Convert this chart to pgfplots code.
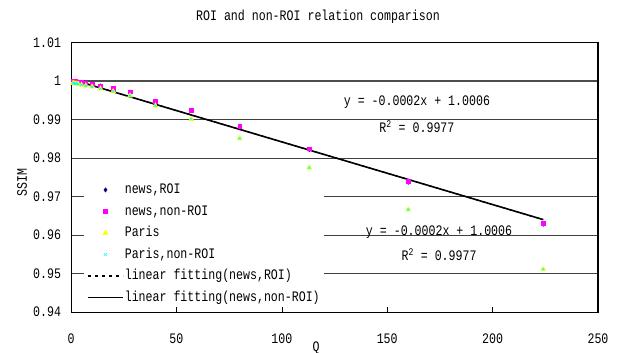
\documentclass[border=0pt]{standalone}
\usepackage{fontspec}
\setmainfont{Liberation Mono}[FakeStretch=0.80]
\usepackage{pgfplots}
\pgfplotsset{compat=1.18}
\definecolor{navyc}{RGB}{0,0,128}
\definecolor{magc}{RGB}{255,0,255}
\definecolor{yelc}{RGB}{255,255,0}
\definecolor{cyac}{RGB}{0,255,255}
\pgfplotsset{
  marklegend/.style={legend image code/.code={\draw[mark repeat=2,mark phase=2,##1] plot coordinates {(0bp,0bp)(17.5bp,0bp)(35bp,0bp)};}},
  linelegend/.style={legend image code/.code={\draw[##1] (0bp,0bp) -- (35bp,0bp);}},
}
\begin{document}
\fontsize{14.5bp}{17bp}\selectfont
\begin{tikzpicture}
\path[use as bounding box] (0,0) rectangle (636bp,353bp);
\begin{axis}[
  at={(71bp,41bp)}, anchor=south west,
  scale only axis, width=527bp, height=269.5bp,
  xmin=0, xmax=250, ymin=0.94, ymax=1.01,
  xtick={0,50,100,150,200,250}, xticklabels={0,50,100,150,200,250},
  ytick={0.94,0.95,0.96,0.97,0.98,0.99,1,1.01},
  yticklabels={0.94,0.95,0.96,0.97,0.98,0.99,1,1.01},
  /pgf/number format/assume math mode=true,
  ymajorgrids, grid style={black!75, line width=0.6pt},
  tick align=inside, xtick pos=bottom, ytick pos=left,
  major tick length=5bp,
  ytick style={draw=none},
  xtick style={black, line width=0.6pt},
  xticklabel style={yshift=-17bp},
  yticklabel style={xshift=-5bp},
  axis line style={black, line width=0.8pt},
  title={ROI and non-ROI relation comparison},
  title style={at={(0.4687,1.0723)}, anchor=center},
  xlabel={Q}, xlabel style={at={(0.465,-0.1336)}, anchor=center},
  ylabel={SSIM}, ylabel style={at={(-0.093,0.482)}, anchor=center},
  legend cell align=left,
  legend style={at={(0.0247,0.4898)}, anchor=north west, draw=none, fill=white,
    inner xsep=3bp, inner ysep=2bp, row sep=6bp,
    nodes={inner sep=1bp, text height=10.5bp, text depth=3bp},
    /tikz/every even column/.append style={column sep=0pt}},
]
\draw[gray!60!black, line width=1.3pt] (axis cs:0,1) -- (axis cs:250,1);
\addplot[only marks, mark=diamond*, mark size=2.2pt, color=navyc, marklegend]
  coordinates {(1,0.9999)(1.4,0.9998)(2,0.9998)(2.8,0.9997)(3.5,0.9997)(5,0.9996)(7,0.9994)(10,0.9991)(14,0.9987)(20,0.9981)(28,0.9971)(40,0.9947)(57,0.9924)(80,0.9881)(113,0.9822)(160,0.9737)(224,0.9628)};
\addlegendentry{news,ROI}
\addplot[only marks, mark=square*, mark size=1.9pt, color=magc, marklegend]
  coordinates {(1,1.0)(1.4,0.9999)(2,0.9999)(2.8,0.9998)(3.5,0.9998)(5,0.9997)(7,0.9995)(10,0.9992)(14,0.9988)(20,0.9982)(28,0.9972)(40,0.9948)(57,0.9925)(80,0.9882)(113,0.9824)(160,0.9739)(224,0.9630)};
\addlegendentry{news,non-ROI}
\addplot[only marks, mark=triangle*, mark size=2.9pt, color=yelc, marklegend]
  coordinates {(1,0.9995)(1.4,0.9994)(2,0.9993)(2.8,0.9993)(3.5,0.9992)(5,0.9990)(7,0.9988)(10,0.9985)(14,0.9980)(20,0.9973)(28,0.9962)(40,0.9936)(57,0.9901)(80,0.9851)(113,0.9775)(160,0.9666)(224,0.9511)};
\addlegendentry{Paris}
\addplot[only marks, mark=x, mark size=1.8pt, color=cyac, line width=0.6pt, marklegend]
  coordinates {(1,0.9995)(1.4,0.9994)(2,0.9993)(2.8,0.9993)(3.5,0.9992)(5,0.9990)(7,0.9988)(10,0.9985)(14,0.9980)(20,0.9973)(28,0.9962)(40,0.9936)(57,0.9901)(80,0.9851)(113,0.9775)(160,0.9666)(224,0.9511)};
\addlegendentry{Paris,non-ROI}
\addplot[black, line width=1.2pt, dash pattern=on 3bp off 4bp, linelegend]
  coordinates {(1,1.0003)(224,0.9640)};
\addlegendentry{linear fitting(news,ROI)}
\addplot[black, line width=1.6pt, linelegend]
  coordinates {(1,1.0003)(224,0.9640)};
\addlegendentry{linear fitting(news,non-ROI)}
\node at (axis cs:164.1,0.99455) {y = -0.0002x + 1.0006};
\node at (axis cs:164.1,0.98805) {R\textsuperscript{2} = 0.9977};
\node at (axis cs:174.6,0.96078) {y = -0.0002x + 1.0006};
\node at (axis cs:174.6,0.95481) {R\textsuperscript{2} = 0.9977};
\draw[line width=1.6pt] (rel axis cs:1,0) ++(0,-5bp) -- (rel axis cs:1,1);
\end{axis}
\end{tikzpicture}
\end{document}
